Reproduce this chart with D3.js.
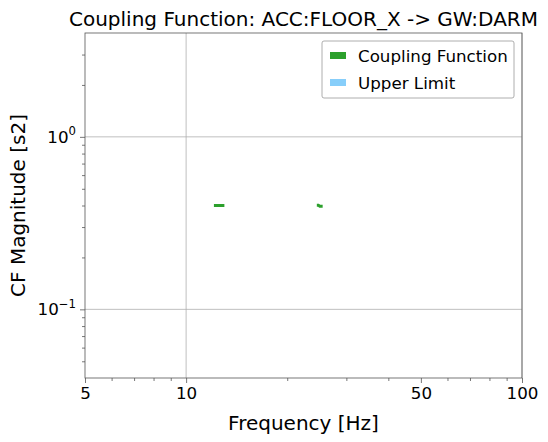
<!DOCTYPE html>
<html>
<head>
<meta charset="utf-8">
<script src="https://cdn.jsdelivr.net/npm/d3@7"></script>
<style>
  body { margin: 0; background: #fff; }
  text { font-family: "DejaVu Sans", sans-serif; }
</style>
</head>
<body>
<script>
var w = 548,
    h = 442;

var margin = { top: 33, right: 26, bottom: 64, left: 85 };

var width = w - margin.left - margin.right,
    height = h - margin.top - margin.bottom;

// data (null = gap in the curve)
var freqs = [12.1, 12.35, 12.6, 12.85, 13.0, null, 24.5, 24.75, 25.0, 25.25, 25.5];
var cfValues = [0.4, 0.4, 0.4, 0.4, 0.4, null, 0.402, 0.402, 0.396, 0.396, 0.396];

var xMajor = [10, 100];
var xLabelled = [5, 10, 50, 100];
var xMinor = [6, 7, 8, 9, 20, 30, 40, 60, 70, 80, 90];
var yMajor = [0.1, 1];
var yExp = ["\u22121", "0"];
var yMinor = [0.05, 0.06, 0.07, 0.08, 0.09, 0.2, 0.3, 0.4, 0.5, 0.6, 0.7, 0.8, 0.9, 2, 3];

var legendItems = ["Coupling Function", "Upper Limit"];
var legendColors = ["#2ca02c", "#87cefa"];

var x = d3.scaleLog().domain([5, 100]).range([0, width]);
var y = d3.scaleLog().domain([0.04, 4]).range([height, 0]);

var svg = d3.select("body").append("svg")
    .attr("width", w)
    .attr("height", h);

var chart = svg.append("g")
    .attr("transform", "translate(" + margin.left + "," + margin.top + ")");

// grid
chart.selectAll(".xgrid").data(xMajor).enter().append("line")
    .attr("x1", function(d) { return x(d); })
    .attr("x2", function(d) { return x(d); })
    .attr("y1", 0).attr("y2", height)
    .attr("stroke", "#b0b0b0").attr("stroke-width", 0.8);

chart.selectAll(".ygrid").data(yMajor).enter().append("line")
    .attr("y1", function(d) { return y(d); })
    .attr("y2", function(d) { return y(d); })
    .attr("x1", 0).attr("x2", width)
    .attr("stroke", "#b0b0b0").attr("stroke-width", 0.8);

// data line
var line = d3.line()
    .defined(function(d) { return d.f !== null; })
    .x(function(d) { return x(d.f); })
    .y(function(d) { return y(d.v); });

var pts = freqs.map(function(f, i) { return { f: f, v: cfValues[i] }; });

chart.append("path")
    .attr("d", line(pts))
    .attr("fill", "none")
    .attr("stroke", legendColors[0])
    .attr("stroke-width", 3);

// x axis
var xAxis = chart.append("g")
    .attr("transform", "translate(0," + height + ")");

xAxis.call(d3.axisBottom(x)
    .tickValues(xLabelled)
    .tickFormat(d3.format("d"))
    .tickSize(5).tickPadding(4));

xAxis.append("g").call(d3.axisBottom(x)
    .tickValues(xMinor)
    .tickFormat("")
    .tickSize(3));

// y axis
var yAxis = chart.append("g");

yAxis.call(d3.axisLeft(y)
    .tickValues(yMajor)
    .tickFormat("")
    .tickSize(5));

yAxis.append("g").call(d3.axisLeft(y)
    .tickValues(yMinor)
    .tickFormat("")
    .tickSize(3));

yAxis.selectAll(".ylab").data(yMajor).enter().append("text")
    .attr("x", -9)
    .attr("y", function(d) { return y(d) + 6; })
    .attr("text-anchor", "end")
    .attr("font-size", 16.7)
    .attr("fill", "#000")
    .each(function(d, i) {
        var t = d3.select(this);
        t.append("tspan").text("10");
        t.append("tspan").attr("dy", -7.5).attr("font-size", 11.7).text(yExp[i]);
    });

svg.selectAll(".domain").attr("stroke", "none");
svg.selectAll(".tick line").attr("stroke", "#555").attr("stroke-width", 0.8);
xAxis.selectAll(".tick text").attr("font-size", 16.7).attr("fill", "#000")
    .attr("font-family", "DejaVu Sans, sans-serif");

// frame
chart.append("rect")
    .attr("width", width).attr("height", height)
    .attr("fill", "none")
    .attr("stroke", "#555")
    .attr("stroke-width", 0.8);

// title and labels
svg.append("text")
    .attr("x", margin.left + width / 2)
    .attr("y", 26)
    .attr("text-anchor", "middle")
    .attr("font-size", 20)
    .text("Coupling Function: ACC:FLOOR_X -> GW:DARM");

svg.append("text")
    .attr("x", margin.left + width / 2)
    .attr("y", 430)
    .attr("text-anchor", "middle")
    .attr("font-size", 20)
    .text("Frequency [Hz]");

svg.append("text")
    .attr("transform", "translate(25," + (margin.top + height / 2) + ") rotate(-90)")
    .attr("text-anchor", "middle")
    .attr("font-size", 20)
    .text("CF Magnitude [s2]");

// legend
var legend = svg.append("g")
    .attr("transform", "translate(322,41)");

legend.append("rect")
    .attr("width", 192).attr("height", 57)
    .attr("rx", 2)
    .attr("fill", "#fff")
    .attr("fill-opacity", 0.8)
    .attr("stroke", "#999")
    .attr("stroke-width", 0.8);

var items = legend.selectAll(".item").data(legendItems).enter().append("g")
    .attr("transform", function(d, i) { return "translate(0," + (i * 27) + ")"; });

items.append("rect")
    .attr("x", 8).attr("y", 11)
    .attr("width", 16).attr("height", 7)
    .attr("fill", function(d, i) { return legendColors[i]; });

items.append("text")
    .attr("x", 36).attr("y", 21)
    .attr("font-size", 16.7)
    .text(function(d) { return d; });
</script>
</body>
</html>
